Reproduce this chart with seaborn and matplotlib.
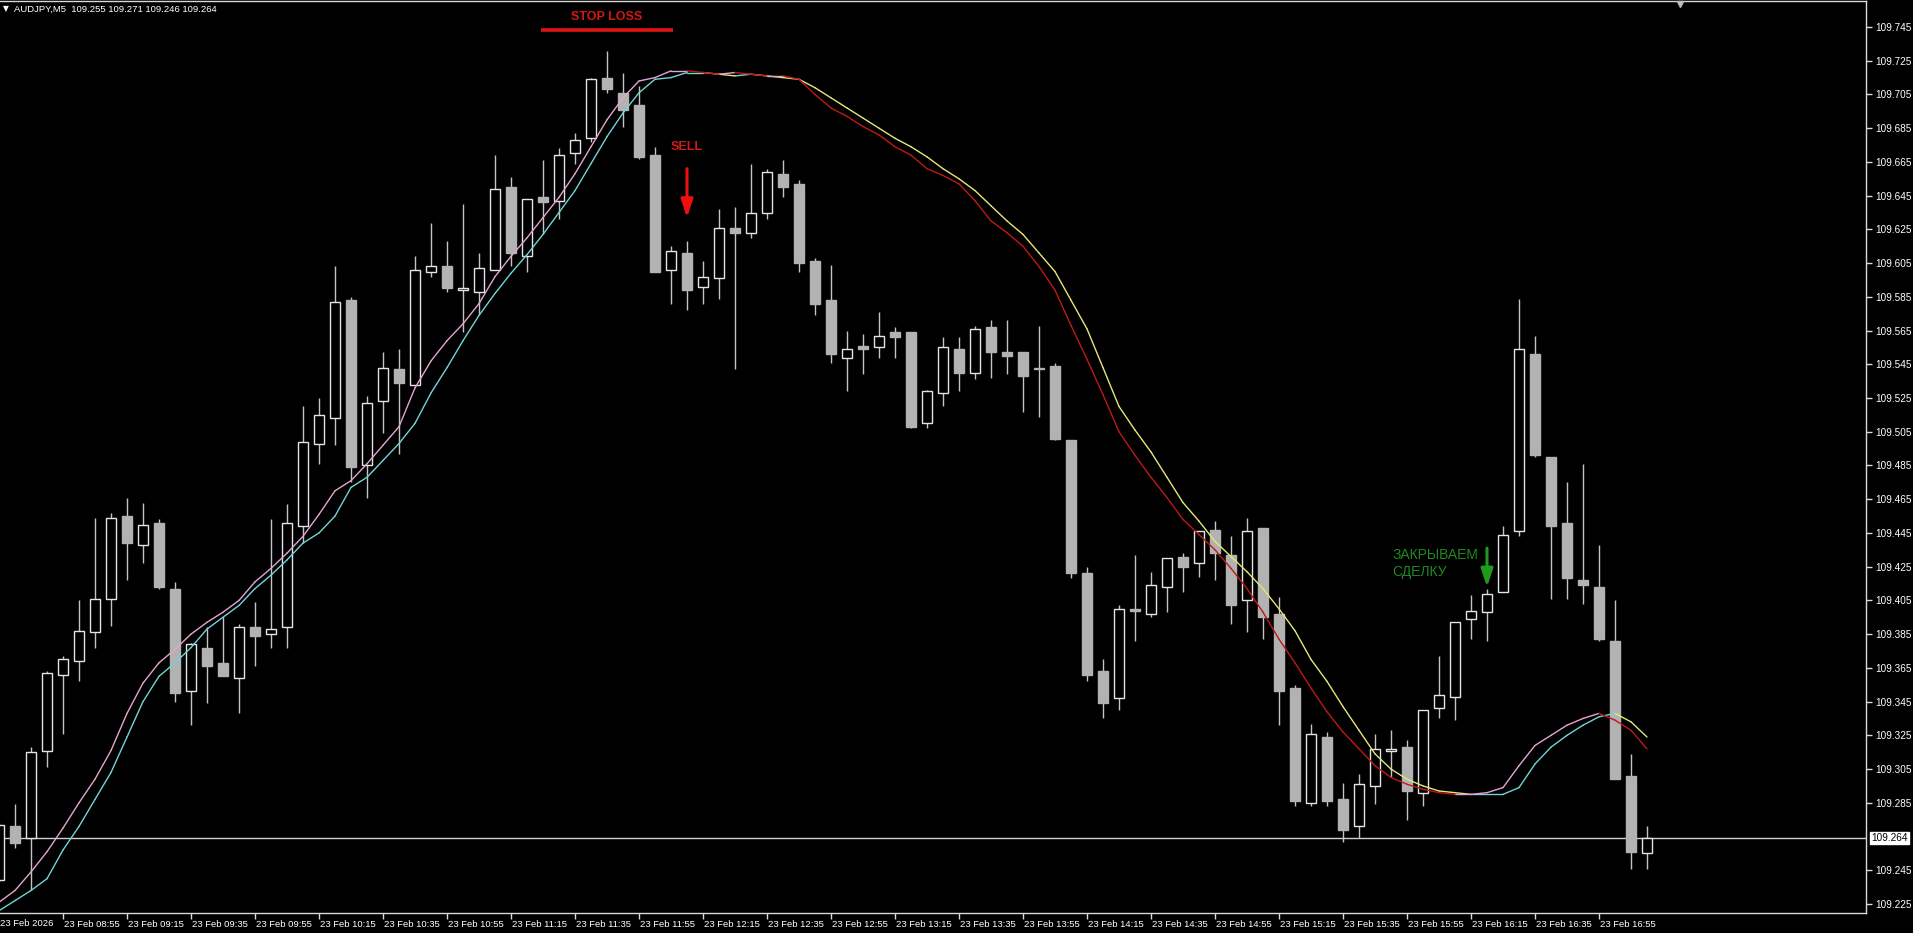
import numpy as np
import pandas as pd
import matplotlib
matplotlib.use("Agg")
import matplotlib.pyplot as plt
import matplotlib.transforms as mtransforms
import seaborn as sns

# ---------------- data ----------------
symbol = "AUDJPY,M5"
first_candle = -4          # candle index of the first (partly hidden) bar; index 0 = 08:55
opens = [109.239, 109.271, 109.264, 109.316, 109.361, 109.369, 109.386, 109.406, 109.455, 109.438,
         109.451, 109.412, 109.351, 109.377, 109.368, 109.359, 109.389, 109.385, 109.389, 109.449,
         109.498, 109.513, 109.583, 109.485, 109.523, 109.542, 109.533, 109.600, 109.603, 109.589,
         109.588, 109.601, 109.650, 109.609, 109.644, 109.642, 109.670, 109.679, 109.715, 109.706,
         109.699, 109.669, 109.601, 109.611, 109.591, 109.596, 109.626, 109.623, 109.635, 109.658,
         109.652, 109.606, 109.583, 109.549, 109.556, 109.555, 109.564, 109.564, 109.510, 109.528,
         109.554, 109.540, 109.567, 109.552, 109.552, 109.543, 109.544, 109.500, 109.421, 109.363,
         109.347, 109.400, 109.397, 109.413, 109.431, 109.427, 109.447, 109.432, 109.405, 109.448,
         109.397, 109.353, 109.285, 109.324, 109.287, 109.271, 109.295, 109.316, 109.318, 109.291,
         109.341, 109.348, 109.394, 109.398, 109.410, 109.446, 109.551, 109.490, 109.451, 109.417,
         109.413, 109.381, 109.301, 109.255]
highs = [109.273, 109.284, 109.318, 109.363, 109.372, 109.405, 109.454, 109.457, 109.466, 109.463,
         109.453, 109.416, 109.380, 109.389, 109.395, 109.391, 109.404, 109.453, 109.462, 109.520,
         109.525, 109.603, 109.585, 109.526, 109.552, 109.554, 109.609, 109.629, 109.618, 109.640,
         109.611, 109.669, 109.656, 109.643, 109.666, 109.673, 109.682, 109.715, 109.731, 109.718,
         109.710, 109.674, 109.615, 109.618, 109.606, 109.637, 109.638, 109.664, 109.661, 109.666,
         109.654, 109.608, 109.604, 109.565, 109.563, 109.576, 109.567, 109.564, 109.530, 109.561,
         109.561, 109.568, 109.571, 109.571, 109.552, 109.568, 109.546, 109.500, 109.425, 109.370,
         109.402, 109.432, 109.422, 109.430, 109.433, 109.446, 109.452, 109.443, 109.454, 109.448,
         109.407, 109.355, 109.332, 109.327, 109.297, 109.302, 109.326, 109.328, 109.322, 109.340,
         109.372, 109.392, 109.408, 109.412, 109.449, 109.584, 109.562, 109.490, 109.475, 109.486,
         109.438, 109.405, 109.314, 109.271]
lows = [109.238, 109.258, 109.233, 109.306, 109.326, 109.357, 109.377, 109.390, 109.417, 109.427,
        109.412, 109.345, 109.331, 109.344, 109.360, 109.338, 109.366, 109.377, 109.377, 109.439,
        109.486, 109.497, 109.475, 109.466, 109.504, 109.492, 109.533, 109.597, 109.588, 109.564,
        109.575, 109.601, 109.603, 109.600, 109.622, 109.631, 109.664, 109.677, 109.706, 109.686,
        109.667, 109.600, 109.581, 109.577, 109.581, 109.584, 109.542, 109.620, 109.631, 109.644,
        109.600, 109.574, 109.546, 109.529, 109.539, 109.549, 109.549, 109.507, 109.507, 109.520,
        109.529, 109.536, 109.537, 109.539, 109.517, 109.514, 109.500, 109.418, 109.357, 109.335,
        109.340, 109.381, 109.395, 109.398, 109.410, 109.419, 109.417, 109.391, 109.386, 109.382,
        109.331, 109.283, 109.283, 109.283, 109.262, 109.264, 109.284, 109.300, 109.275, 109.283,
        109.335, 109.334, 109.382, 109.381, 109.410, 109.443, 109.490, 109.406, 109.406, 109.403,
        109.381, 109.299, 109.246, 109.246]
closes = [109.272, 109.261, 109.315, 109.362, 109.370, 109.387, 109.406, 109.454, 109.439, 109.450,
          109.413, 109.350, 109.379, 109.366, 109.360, 109.389, 109.384, 109.388, 109.451, 109.499,
          109.515, 109.582, 109.484, 109.522, 109.543, 109.534, 109.601, 109.603, 109.590, 109.590,
          109.602, 109.649, 109.611, 109.643, 109.641, 109.669, 109.678, 109.714, 109.708, 109.696,
          109.668, 109.600, 109.612, 109.589, 109.597, 109.626, 109.623, 109.635, 109.659, 109.650,
          109.605, 109.581, 109.551, 109.554, 109.554, 109.562, 109.561, 109.508, 109.529, 109.555,
          109.540, 109.566, 109.552, 109.550, 109.538, 109.542, 109.501, 109.421, 109.361, 109.344,
          109.400, 109.399, 109.414, 109.430, 109.425, 109.446, 109.433, 109.402, 109.446, 109.395,
          109.351, 109.286, 109.326, 109.286, 109.269, 109.296, 109.317, 109.317, 109.292, 109.340,
          109.349, 109.392, 109.399, 109.409, 109.444, 109.554, 109.491, 109.449, 109.418, 109.414,
          109.382, 109.299, 109.256, 109.264]

fast_ma = [109.226, 109.233, 109.244, 109.256, 109.270, 109.285, 109.299, 109.316, 109.338, 109.356,
           109.368, 109.376, 109.385, 109.392, 109.398, 109.405, 109.416, 109.424, 109.433, 109.443,
           109.456, 109.470, 109.476, 109.486, 109.497, 109.508, 109.531, 109.547, 109.559, 109.569,
           109.581, 109.597, 109.609, 109.620, 109.632, 109.644, 109.658, 109.674, 109.690, 109.703,
           109.713, 109.715, 109.719, 109.719, 109.718, 109.717, 109.718, 109.717, 109.716, 109.716,
           109.714, 109.705, 109.697, 109.692, 109.686, 109.681, 109.674, 109.669, 109.661, 109.657,
           109.652, 109.642, 109.630, 109.623, 109.615, 109.603, 109.589, 109.568, 109.548, 109.527,
           109.505, 109.491, 109.478, 109.466, 109.453, 109.444, 109.435, 109.424, 109.412, 109.398,
           109.382, 109.368, 109.353, 109.339, 109.327, 109.317, 109.307, 109.300, 109.296, 109.293,
           109.291, 109.290, 109.290, 109.291, 109.294, 109.307, 109.319, 109.325, 109.331, 109.335,
           109.338, 109.334, 109.328, 109.317]
slow_ma = [109.221, 109.227, 109.233, 109.240, 109.257, 109.271, 109.287, 109.303, 109.324, 109.345,
           109.360, 109.368, 109.377, 109.388, 109.395, 109.402, 109.412, 109.420, 109.429, 109.439,
           109.445, 109.455, 109.472, 109.478, 109.488, 109.498, 109.510, 109.528, 109.543, 109.559,
           109.574, 109.587, 109.599, 109.610, 109.622, 109.635, 109.648, 109.664, 109.680, 109.694,
           109.706, 109.714, 109.715, 109.718, 109.718, 109.717, 109.716, 109.717, 109.716, 109.715,
           109.714, 109.709, 109.703, 109.697, 109.691, 109.685, 109.679, 109.674, 109.668, 109.661,
           109.655, 109.648, 109.639, 109.630, 109.622, 109.611, 109.600, 109.583, 109.566, 109.543,
           109.520, 109.506, 109.493, 109.478, 109.463, 109.452, 109.440, 109.431, 109.422, 109.412,
           109.400, 109.387, 109.370, 109.357, 109.342, 109.328, 109.314, 109.305, 109.299, 109.295,
           109.292, 109.291, 109.290, 109.290, 109.290, 109.294, 109.308, 109.318, 109.325, 109.331,
           109.336, 109.338, 109.333, 109.324]

first_date_label = "23 Feb 2026"
x_tick_candles = list(range(0, 97, 4))
x_tick_labels = ["23 Feb 08:55", "23 Feb 09:15", "23 Feb 09:35", "23 Feb 09:55", "23 Feb 10:15",
                 "23 Feb 10:35", "23 Feb 10:55", "23 Feb 11:15", "23 Feb 11:35", "23 Feb 11:55",
                 "23 Feb 12:15", "23 Feb 12:35", "23 Feb 12:55", "23 Feb 13:15", "23 Feb 13:35",
                 "23 Feb 13:55", "23 Feb 14:15", "23 Feb 14:35", "23 Feb 14:55", "23 Feb 15:15",
                 "23 Feb 15:35", "23 Feb 15:55", "23 Feb 16:15", "23 Feb 16:35", "23 Feb 16:55"]
y_ticks = [109.745, 109.725, 109.705, 109.685, 109.665, 109.645, 109.625, 109.605, 109.585,
           109.565, 109.545, 109.525, 109.505, 109.485, 109.465, 109.445, 109.425, 109.405,
           109.385, 109.365, 109.345, 109.325, 109.305, 109.285, 109.245, 109.225]

# annotations (candle index, price)
stop_loss_text = "STOP LOSS"
stop_loss_anchor = (34.0, 109.751)
stop_loss_line = ((29.9, 38.1), 109.743)
sell_text = "SELL"
sell_candle = 39
sell_arrow_prices = (109.661, 109.632)
sell_text_price = 109.674
close_text = "ЗАКРЫВАЕМ\nСДЕЛКУ"
close_candle = 89
close_arrow_prices = (109.436, 109.413)
close_text_anchor = (83.1, 109.427)

# ---------------- style ----------------
sns.set_theme(style="dark", rc={"axes.facecolor": "black", "figure.facecolor": "black"})
plt.rcParams["font.family"] = ["Liberation Sans", "DejaVu Sans"]

W, H = 1913, 933
px_per_candle = 16.0
x0_px = 63.0                 # pixel of candle index 0
y_ref_px, y_ref_p = 27.0, 109.745
px_per_unit = 1686.5
ax_left, ax_right, ax_top, ax_bottom = 0, 1866, 1, 913
small = 6.8

fig = plt.figure(figsize=(W / 100, H / 100), dpi=100, facecolor="black")
ax = fig.add_axes([ax_left / W, (H - ax_bottom) / H, (ax_right - ax_left) / W, (ax_bottom - ax_top) / H])
ax.set_facecolor("black")
ax.set_xlim((ax_left - x0_px) / px_per_candle, (ax_right - x0_px) / px_per_candle)
ax.set_ylim(y_ref_p - (ax_bottom - y_ref_px) / px_per_unit, y_ref_p + (y_ref_px - ax_top) / px_per_unit)

o = np.array(opens); h = np.array(highs); l = np.array(lows); c = np.array(closes)
x = np.arange(len(o)) + first_candle
up = c >= o
body_lo = np.minimum(o, c)
body_h = np.abs(c - o)

# last price line
ax.axhline(c[-1], color="#cfcfcf", lw=1, zorder=1.5)

# wicks and bodies
ax.vlines(x, l, h, color="#c4c4c4", lw=1, zorder=2)
ax.bar(x[up], body_h[up], bottom=body_lo[up], width=0.66, facecolor="black",
       edgecolor="#e4e4e4", linewidth=1, zorder=3)
ax.bar(x[~up], body_h[~up], bottom=body_lo[~up], width=0.66, facecolor="#b2b2b2",
       edgecolor="#b2b2b2", linewidth=1, zorder=3)


def segments(vals):
    rows = []
    for k in range(len(vals) - 1):
        d = "up" if vals[k + 1] >= vals[k] else "down"
        rows.append((x[k], vals[k], k, d))
        rows.append((x[k + 1], vals[k + 1], k, d))
    return pd.DataFrame(rows, columns=["x", "v", "seg", "dir"])


sns.lineplot(data=segments(slow_ma), x="x", y="v", hue="dir", units="seg", estimator=None,
             palette={"up": "#72d4d8", "down": "#e6e67a"}, lw=1, legend=False, sort=False, ax=ax, zorder=4)
sns.lineplot(data=segments(fast_ma), x="x", y="v", hue="dir", units="seg", estimator=None,
             palette={"up": "#e4a6cf", "down": "#c01818"}, lw=1, legend=False, sort=False, ax=ax, zorder=5)

# axes look
for s in ["top", "right", "bottom"]:
    ax.spines[s].set_visible(True)
    ax.spines[s].set_color("#d8d8d8")
    ax.spines[s].set_linewidth(1)
ax.spines["left"].set_visible(False)
ax.grid(False)
ax.set_xlabel(""); ax.set_ylabel("")

ax.yaxis.tick_right()
ax.set_yticks(y_ticks)
ax.set_yticklabels([f"{v:.3f}" for v in y_ticks])
ax.tick_params(axis="y", which="both", right=True, left=False, direction="out", length=4, width=1,
               color="#d8d8d8", labelcolor="white", labelsize=7.2, pad=3)

ax.set_xticks(x_tick_candles)
ax.set_xticklabels(x_tick_labels)
ax.tick_params(axis="x", which="both", bottom=True, direction="out", length=4, width=1,
               color="#d8d8d8", labelcolor="white", labelsize=small, pad=1)
offset = mtransforms.ScaledTranslation(1 / 100, 0, fig.dpi_scale_trans)
for lab in ax.get_xticklabels():
    lab.set_horizontalalignment("left")
    lab.set_transform(lab.get_transform() + offset)

fig.text(0 / W, 1 - 923 / H, first_date_label, color="white", fontsize=small, ha="left", va="center")

# header
header = f"{symbol}  {opens[-1]:.3f} {highs[-1]:.3f} {lows[-1]:.3f} {closes[-1]:.3f}"
fig.text(3 / W, 1 - 9 / H, "▼", color="white", fontsize=5.5, ha="left", va="center",
         family=["DejaVu Sans"])
fig.text(14 / W, 1 - 9 / H, header, color="white", fontsize=small, ha="left", va="center")
ax.plot([1680 / 1866], [1 - 3 / 912], marker="v", ms=5, color="#bdbdbd", transform=ax.transAxes,
        clip_on=False, zorder=6)

# last price box on the axis
bt = mtransforms.blended_transform_factory(ax.transAxes, ax.transData)
ax.text(1 + 5 / 1866, c[-1], f"{c[-1]:.3f}", transform=bt, ha="left", va="center", fontsize=7.2,
        color="black", bbox=dict(facecolor="white", edgecolor="white", boxstyle="square,pad=0.12"),
        clip_on=False)

# annotations
ax.text(stop_loss_anchor[0], stop_loss_anchor[1], stop_loss_text, color="#d41616", fontsize=9,
        fontweight="bold", ha="center", va="center")
ax.plot(list(stop_loss_line[0]), [stop_loss_line[1]] * 2, color="#e01414", lw=2.6,
        solid_capstyle="butt", zorder=6)
ax.text(sell_candle, sell_text_price, sell_text, color="#cc1c1c", fontsize=9, fontweight="bold",
        ha="center", va="center")
ax.annotate("", xy=(sell_candle, sell_arrow_prices[1]), xytext=(sell_candle, sell_arrow_prices[0]),
            arrowprops=dict(arrowstyle="-|>,head_length=0.9,head_width=0.3", color="#ee1010", lw=2.2,
                            shrinkA=0, shrinkB=0))
ax.text(close_text_anchor[0], close_text_anchor[1], close_text, color="#1f8a1f", fontsize=10,
        ha="left", va="center", linespacing=1.25)
ax.annotate("", xy=(close_candle, close_arrow_prices[1]), xytext=(close_candle, close_arrow_prices[0]),
            arrowprops=dict(arrowstyle="-|>,head_length=0.9,head_width=0.3", color="#1f9a1f", lw=2.2,
                            shrinkA=0, shrinkB=0))

fig.savefig("out.png", dpi=100, facecolor="black")
